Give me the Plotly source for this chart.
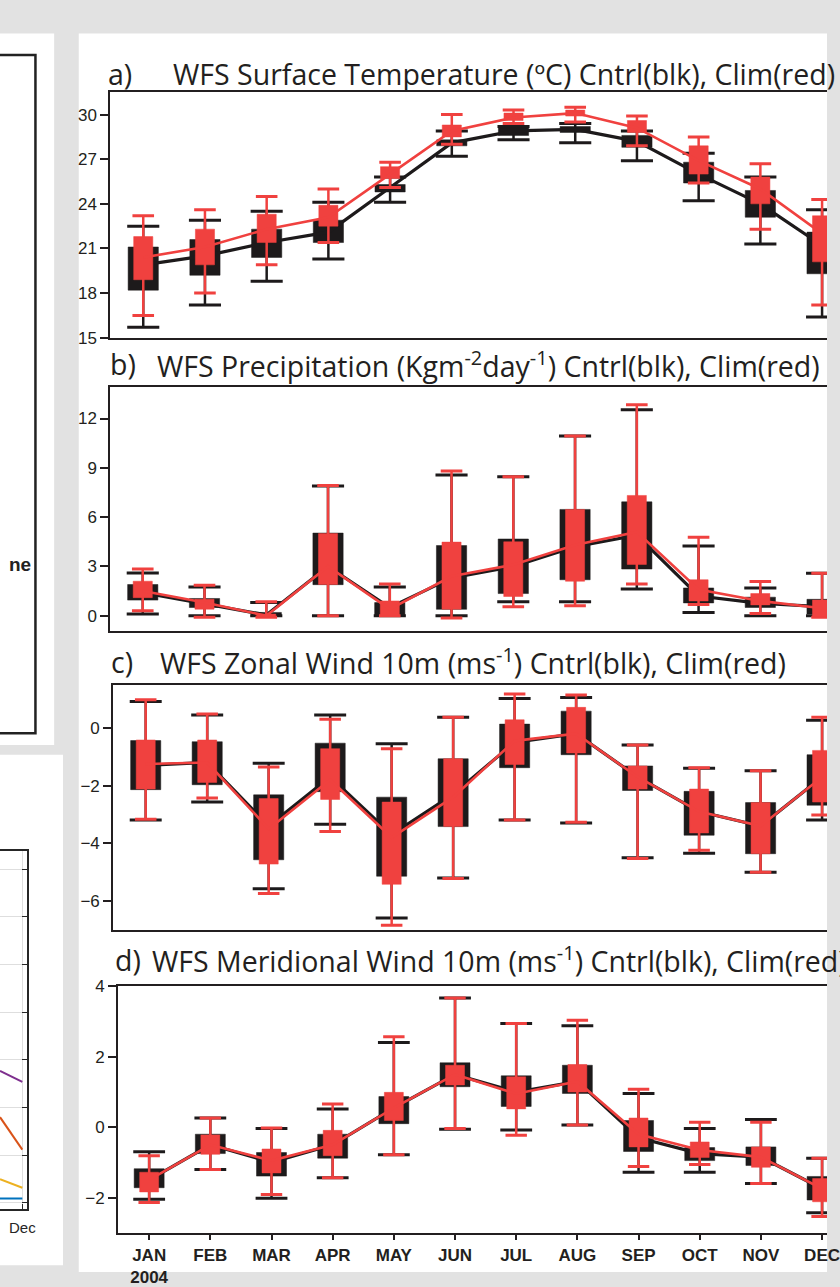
import plotly.graph_objects as go

W, H = 840, 1287

# ---------------- data ----------------
month_labels = ["JAN<br>2004", "FEB", "MAR", "APR", "MAY", "JUN",
                "JUL", "AUG", "SEP", "OCT", "NOV", "DEC"]
month_idx = list(range(12))

# a) Surface temperature (degC)
sst_ctl_lo = [15.7, 17.2, 18.8, 20.3, 24.1, 27.2, 28.3, 28.1, 26.9, 24.2, 21.3, 16.4]
sst_ctl_q1 = [18.2, 19.2, 20.4, 21.4, 24.8, 27.9, 28.6, 28.8, 27.8, 25.4, 23.1, 19.3]
sst_ctl_q3 = [21.1, 21.6, 22.3, 22.9, 25.3, 28.3, 29.1, 29.2, 28.6, 26.8, 24.9, 22.1]
sst_ctl_hi = [22.5, 22.9, 23.5, 24.1, 25.8, 28.9, 29.2, 29.4, 28.9, 27.4, 25.8, 23.6]
sst_ctl_mean = [19.9, 20.5, 21.4, 22.1, 25.1, 28.1, 28.9, 29.0, 28.2, 26.0, 24.0, 21.2]
sst_clm_lo = [16.5, 18.0, 19.9, 21.4, 25.1, 28.0, 29.4, 29.5, 27.9, 25.4, 22.3, 17.2]
sst_clm_q1 = [18.9, 19.9, 21.4, 22.5, 25.7, 28.5, 29.6, 29.9, 28.8, 26.0, 24.0, 20.1]
sst_clm_q3 = [21.8, 22.3, 23.3, 23.9, 26.5, 29.3, 30.1, 30.3, 29.6, 27.9, 25.8, 23.2]
sst_clm_hi = [23.2, 23.6, 24.5, 25.0, 26.8, 30.0, 30.3, 30.5, 29.9, 28.5, 26.7, 24.3]
sst_clm_mean = [20.4, 21.1, 22.3, 23.1, 26.0, 28.9, 29.8, 30.1, 29.1, 26.9, 25.0, 22.0]

# b) Precipitation (kg m-2 day-1)
pr_ctl_lo = [0.1, 0.0, 0.0, 0.0, 0.0, 0.0, 0.85, 0.85, 1.63, 0.2, 0.0, 0.0]
pr_ctl_q1 = [0.95, 0.5, 0.0, 1.89, 0.0, 0.39, 1.35, 2.19, 2.84, 0.78, 0.5, 0.1]
pr_ctl_q3 = [1.9, 1.05, 0.2, 5.03, 0.8, 4.27, 4.67, 6.47, 6.93, 1.69, 1.13, 1.0]
pr_ctl_hi = [2.6, 1.75, 0.8, 7.9, 1.75, 8.56, 8.45, 10.94, 12.54, 4.24, 1.69, 2.58]
pr_ctl_mean = [1.4, 0.75, 0.05, 3.0, 0.5, 2.3, 3.0, 4.2, 4.9, 1.2, 0.75, 0.55]
pr_clm_lo = [0.3, -0.1, -0.1, 0.0, 0.0, -0.14, 0.54, 0.6, 1.93, 0.69, 0.14, -0.1]
pr_clm_q1 = [1.1, 0.4, -0.05, 1.9, 0.0, 0.4, 1.17, 2.1, 3.12, 0.9, 0.66, -0.05]
pr_clm_q3 = [2.1, 1.0, 0.1, 5.0, 0.9, 4.48, 4.5, 6.47, 7.32, 2.19, 1.35, 0.95]
pr_clm_hi = [2.84, 1.85, 0.85, 7.92, 1.93, 8.8, 8.45, 10.94, 12.84, 4.78, 2.09, 2.58]
pr_clm_mean = [1.5, 0.8, 0.0, 3.0, 0.4, 2.4, 3.1, 4.3, 5.1, 1.6, 0.9, 0.45]

# c) Zonal wind 10 m (m s-1)
u_ctl_lo = [-3.19, -2.57, -5.57, -3.34, -6.59, -5.2, -3.19, -3.3, -4.5, -4.34, -5.0, -3.19]
u_ctl_q1 = [-2.14, -1.97, -4.57, -2.21, -5.14, -3.42, -1.38, -0.93, -2.17, -3.72, -4.36, -2.68]
u_ctl_q3 = [-0.44, -0.48, -2.32, -0.53, -2.4, -1.07, 0.13, 0.58, -1.32, -2.2, -2.59, -0.93]
u_ctl_hi = [0.91, 0.45, -1.23, 0.45, -0.55, 0.37, 1.02, 1.05, -0.59, -1.4, -1.49, 0.26]
u_ctl_mean = [-1.3, -1.2, -3.4, -1.7, -3.7, -2.3, -0.5, -0.2, -1.7, -2.9, -3.4, -1.7]
u_clm_lo = [-3.17, -2.43, -5.74, -3.59, -6.84, -5.22, -3.19, -3.27, -4.53, -4.24, -5.0, -3.02]
u_clm_q1 = [-2.12, -1.89, -4.72, -2.48, -5.42, -3.42, -1.27, -0.87, -2.12, -3.64, -4.36, -2.57]
u_clm_q3 = [-0.42, -0.42, -2.45, -0.72, -2.57, -1.07, 0.28, 0.71, -1.32, -2.12, -2.59, -0.78]
u_clm_hi = [0.97, 0.48, -1.36, 0.3, -0.72, 0.37, 1.17, 1.14, -0.59, -1.38, -1.49, 0.37]
u_clm_mean = [-1.25, -1.2, -3.5, -1.8, -3.8, -2.4, -0.45, -0.2, -1.7, -2.9, -3.4, -1.7]

# d) Meridional wind 10 m (m s-1)
v_ctl_lo = [-2.05, -1.2, -2.02, -1.44, -0.78, -0.06, -0.08, 0.06, -1.28, -1.28, -1.6, -2.43]
v_ctl_q1 = [-1.72, -0.75, -1.39, -0.88, 0.1, 1.15, 0.59, 0.96, -0.69, -0.95, -1.09, -2.07]
v_ctl_q3 = [-1.18, -0.2, -0.72, -0.2, 0.87, 1.83, 1.46, 1.76, 0.19, -0.58, -0.56, -1.4]
v_ctl_hi = [-0.7, 0.26, -0.04, 0.52, 2.41, 3.67, 2.95, 2.88, 0.96, -0.04, 0.22, -0.88]
v_ctl_mean = [-1.5, -0.5, -1.0, -0.5, 0.55, 1.5, 1.0, 1.3, -0.3, -0.75, -0.85, -1.75]
v_clm_lo = [-2.14, -1.2, -1.91, -1.44, -0.78, -0.04, -0.23, 0.06, -1.12, -1.06, -1.6, -2.54]
v_clm_q1 = [-1.84, -0.77, -1.3, -0.81, 0.19, 1.2, 0.52, 1.0, -0.56, -0.86, -1.14, -2.12]
v_clm_q3 = [-1.28, -0.22, -0.62, -0.09, 0.99, 1.76, 1.43, 1.78, 0.26, -0.42, -0.56, -1.46]
v_clm_hi = [-0.81, 0.26, -0.02, 0.66, 2.57, 3.67, 2.95, 3.04, 1.08, 0.14, 0.14, -0.88]
v_clm_mean = [-1.5, -0.5, -0.95, -0.5, 0.55, 1.5, 0.95, 1.3, -0.2, -0.65, -0.85, -1.75]

# partial neighbouring line chart (lower left, only Nov-Dec visible)
side_x = [11, 12]
side_tick_vals = [12]
side_tick_text = ["Dec"]
side_purple = [2.77, 2.54]
side_red = [1.8, 1.12]
side_yellow = [0.5, 0.32]
side_blue = [0.095, 0.095]

# ---------------- styling ----------------
CTL = "#1d1a1b"
CLM = "#f0413f"
AX = "#231f20"
TITLE_FONT = "Open Sans"
TICK_FONT = "Liberation Sans"
TITLE_SIZE = 28.5


def px_x(p):
    return p / W


def px_y(p):
    return 1 - p / H


fig = go.Figure()


def add_series(xa, ya, lo, q1, q3, hi, mean, color, box_half, cap_half, wl, lw):
    xs_w, ys_w, xs_c, ys_c, xs_b, ys_b = [], [], [], [], [], []
    for x, a, b, c, d in zip(month_idx, lo, q1, q3, hi):
        xs_w += [x, x, None]
        ys_w += [a, d, None]
        xs_c += [x - cap_half, x + cap_half, None, x - cap_half, x + cap_half, None]
        ys_c += [a, a, None, d, d, None]
        xs_b += [x - box_half, x + box_half, x + box_half, x - box_half, x - box_half, None]
        ys_b += [b, b, c, c, b, None]
    common = dict(xaxis=xa, yaxis=ya, hoverinfo="skip", showlegend=False)
    fig.add_trace(go.Scatter(x=xs_w, y=ys_w, mode="lines",
                             line=dict(color=color, width=wl), **common))
    fig.add_trace(go.Scatter(x=xs_c, y=ys_c, mode="lines",
                             line=dict(color=color, width=3), **common))
    fig.add_trace(go.Scatter(x=xs_b, y=ys_b, mode="lines", fill="toself",
                             fillcolor=color, line=dict(color=color, width=0.5),
                             **common))
    fig.add_trace(go.Scatter(x=month_idx, y=mean, mode="lines",
                             line=dict(color=color, width=lw), **common))


panels = [
    dict(ax="", left=112, top=85, bottom=335, jan=145.5, yr=[15, 31.49], dtick=3,
         lab="a)", labx=108, tx=174, ty=66,
         title="WFS Surface Temperature (ºC) Cntrl(blk), Clim(red)",
         ctl=(sst_ctl_lo, sst_ctl_q1, sst_ctl_q3, sst_ctl_hi, sst_ctl_mean),
         clm=(sst_clm_lo, sst_clm_q1, sst_clm_q3, sst_clm_hi, sst_clm_mean)),
    dict(ax="2", left=112, top=385, bottom=634, jan=145, yr=[-0.94, 13.93], dtick=3,
         lab="b)", labx=110, tx=157, ty=362,
         title="WFS Precipitation (Kgm<sup>-2</sup>day<sup>-1</sup>) Cntrl(blk), Clim(red)",
         ctl=(pr_ctl_lo, pr_ctl_q1, pr_ctl_q3, pr_ctl_hi, pr_ctl_mean),
         clm=(pr_clm_lo, pr_clm_q1, pr_clm_q3, pr_clm_hi, pr_clm_mean)),
    dict(ax="3", left=115, top=689, bottom=939, jan=148, yr=[-7.02, 1.48], dtick=2,
         lab="c)", labx=111, tx=160, ty=665,
         title="WFS Zonal Wind 10m (ms<sup>-1</sup>) Cntrl(blk), Clim(red)",
         ctl=(u_ctl_lo, u_ctl_q1, u_ctl_q3, u_ctl_hi, u_ctl_mean),
         clm=(u_clm_lo, u_clm_q1, u_clm_q3, u_clm_hi, u_clm_mean)),
    dict(ax="4", left=120, top=996, bottom=1247, jan=151.5, yr=[-3.0, 4.0], dtick=2,
         lab="d)", labx=115, tx=152, ty=969,
         title="WFS Meridional Wind 10m (ms<sup>-1</sup>) Cntrl(blk), Clim(red)",
         ctl=(v_ctl_lo, v_ctl_q1, v_ctl_q3, v_ctl_hi, v_ctl_mean),
         clm=(v_clm_lo, v_clm_q1, v_clm_q3, v_clm_hi, v_clm_mean)),
]

DEC_PX = 835
annotations = []
layout_axes = {}
for i, p in enumerate(panels):
    xa, ya = "x" + p["ax"], "y" + p["ax"]
    add_series(xa, ya, *p["ctl"], CTL, 0.245, 0.26, 2.5, 3.2)
    add_series(xa, ya, *p["clm"], CLM, 0.155, 0.175, 2.5, 2.6)
    s = (DEC_PX - p["jan"]) / 11.0
    r0 = -(p["jan"] - p["left"]) / s
    r1 = 11 + (W - DEC_PX) / s
    last = i == len(panels) - 1
    xkey = "xaxis" + p["ax"]
    ykey = "yaxis" + p["ax"]
    layout_axes[xkey] = dict(
        domain=[px_x(p["left"]), 1.0], range=[r0, r1], anchor=ya,
        showline=True, linecolor=AX, linewidth=2, mirror=True,
        showgrid=False, zeroline=False,
        tickmode="array", tickvals=month_idx, ticktext=month_labels,
        showticklabels=last, ticks="outside" if last else "",
        ticklen=5, tickwidth=1.5, tickcolor=AX, ticklabeloverflow="allow",
        ticklabelstandoff=1,
        tickfont=dict(family="Liberation Sans Narrow, Liberation Sans, Arial",
                      size=17, color=AX, weight="bold"),
    )
    layout_axes[ykey] = dict(
        domain=[px_y(p["bottom"]), px_y(p["top"])], range=p["yr"], anchor=xa,
        showline=True, linecolor=AX, linewidth=2, mirror=False,
        showgrid=False, zeroline=False, dtick=p["dtick"], tick0=0,
        ticks="outside", ticklen=8, tickwidth=1.5, tickcolor=AX,
        tickfont=dict(family=TICK_FONT, size=17, color=AX),
    )
    annotations.append(dict(xref="paper", yref="paper", x=px_x(p["labx"]), y=px_y(p["ty"]),
                            xanchor="left", yanchor="middle", showarrow=False,
                            text=p["lab"], font=dict(family=TITLE_FONT, size=TITLE_SIZE, color=AX)))
    annotations.append(dict(xref="paper", yref="paper", x=px_x(p["tx"]), y=px_y(p["ty"]),
                            xanchor="left", yanchor="middle", showarrow=False,
                            text=p["title"], font=dict(family=TITLE_FONT, size=TITLE_SIZE, color=AX)))

# neighbouring partial line chart (lower-left)
for vals, col in [(side_blue, "#0072BD"), (side_red, "#D95319"),
                  (side_yellow, "#EDB120"), (side_purple, "#7E2F8E")]:
    fig.add_trace(go.Scatter(x=side_x, y=vals, mode="lines", xaxis="x5", yaxis="y5",
                             line=dict(color=col, width=2), hoverinfo="skip",
                             showlegend=False))
layout_axes["xaxis5"] = dict(
    domain=[0, px_x(27)], range=[11, 12.19], anchor="y5",
    showline=True, linecolor="#262626", linewidth=1.5, mirror=True,
    showgrid=True, gridcolor="#dedede", zeroline=False,
    tickmode="array", tickvals=side_tick_vals, ticktext=side_tick_text,
    ticks="inside", ticklen=5, tickcolor="#262626", ticklabelstandoff=4,
    ticklabeloverflow="allow", tickangle=0,
    tickfont=dict(family=TICK_FONT, size=15, color="#262626"),
)
layout_axes["yaxis5"] = dict(
    domain=[px_y(1223), px_y(858)], range=[-0.13, 7.38], anchor="x5", side="right",
    showline=True, linecolor="#262626", linewidth=1.5,
    showgrid=True, gridcolor="#dedede", zeroline=False, dtick=1, tick0=0,
    ticks="inside", ticklen=5, tickcolor="#262626", showticklabels=False,
)

# left-edge remnant text of neighbouring figure
annotations.append(dict(xref="paper", yref="paper", x=px_x(34), y=px_y(566),
                        xanchor="right", yanchor="middle", showarrow=False,
                        text="<b>ne</b>", font=dict(family=TICK_FONT, size=19, color="#222")))

shapes = [
    # white page areas
    dict(type="rect", xref="paper", yref="paper", x0=px_x(80), x1=1.0,
         y0=0.0, y1=px_y(25), fillcolor="white", line=dict(width=0), layer="below"),
    dict(type="rect", xref="paper", yref="paper", x0=0.0, x1=px_x(55),
         y0=px_y(750), y1=px_y(25), fillcolor="white", line=dict(width=0), layer="below"),
    dict(type="rect", xref="paper", yref="paper", x0=0.0, x1=px_x(64),
         y0=px_y(1280), y1=px_y(760), fillcolor="white", line=dict(width=0), layer="below"),
    # frame of neighbouring figure (top-left)
    dict(type="rect", xref="paper", yref="paper", x0=px_x(-20), x1=px_x(36),
         y0=px_y(738), y1=px_y(47), line=dict(color="#222", width=2.5),
         fillcolor="rgba(0,0,0,0)", layer="above"),
]

fig.update_layout(
    autosize=True,
    margin=dict(l=0, r=0, t=0, b=0, pad=0),
    paper_bgcolor="#e2e2e2", plot_bgcolor="white",
    showlegend=False, annotations=annotations, shapes=shapes,
    **layout_axes,
)

# pin the plot div to the window's top-left corner so the page margin does not shift it
fig.write_html(
    "out.html",
    config={"displayModeBar": False},
    default_width="%dpx;position:fixed;left:0;top:0" % W,
    default_height="%dpx" % H,
)
